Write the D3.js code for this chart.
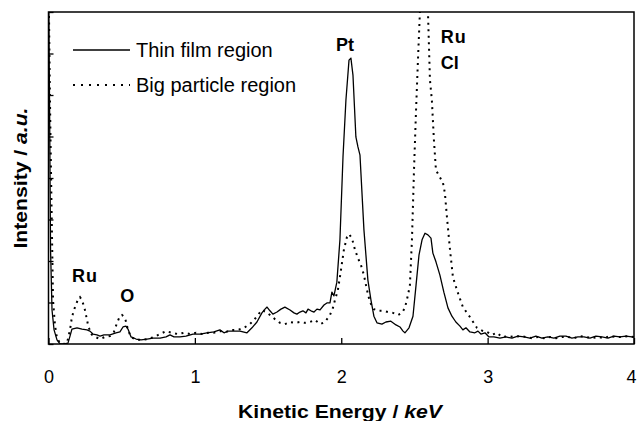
<!DOCTYPE html>
<html><head><meta charset="utf-8">
<script src="https://cdn.jsdelivr.net/npm/d3@7"></script>
<style>
html,body{margin:0;padding:0;background:#fff;}
svg{display:block;font-family:Arial,"Liberation Sans",sans-serif;}
</style></head>
<body><svg id="chart" width="638" height="421"></svg>
<script>
// ---- data ----
const xTicks = [0, 1, 2, 3, 4];
const yTicks = [0, 1, 2, 3, 4, 5, 6, 7, 8];
const seriesNames = ["Thin film region", "Big particle region"];

const energyThin = [0,0.007,0.014,0.024,0.038,0.058,0.079,0.106,0.133,0.147,0.16,0.195,0.229,0.263,0.283,0.304,0.331,0.352,0.379,0.42,0.461,0.488,0.509,0.529,0.543,0.564,0.598,0.632,0.673,0.714,0.762,0.803,0.83,0.857,0.898,0.939,0.987,1.035,1.083,1.13,1.171,1.199,1.226,1.267,1.308,1.356,1.39,1.424,1.458,1.479,1.493,1.513,1.533,1.561,1.588,1.615,1.65,1.677,1.697,1.718,1.738,1.759,1.773,1.793,1.814,1.834,1.855,1.882,1.902,1.923,1.936,1.95,1.97,1.991,2.012,2.032,2.053,2.066,2.08,2.1,2.114,2.128,2.155,2.182,2.203,2.223,2.244,2.278,2.305,2.339,2.374,2.401,2.422,2.435,2.463,2.49,2.511,2.531,2.552,2.572,2.592,2.613,2.626,2.647,2.674,2.701,2.729,2.756,2.783,2.811,2.831,2.852,2.879,2.913,2.934,2.954,2.982,3.009,3.043,3.084,3.125,3.166,3.207,3.248,3.289,3.33,3.371,3.412,3.453,3.494,3.535,3.576,3.617,3.658,3.699,3.74,3.781,3.822,3.863,3.904,3.945,3.986,4.0];
const thinFilm = [9.0,5.88,2.27,0.82,0.34,0.10,0,0,0.02,0.19,0.36,0.39,0.36,0.34,0.31,0.24,0.22,0.19,0.22,0.22,0.27,0.29,0.41,0.43,0.36,0.17,0.12,0.10,0.12,0.14,0.14,0.17,0.22,0.17,0.17,0.19,0.24,0.24,0.27,0.29,0.34,0.27,0.31,0.31,0.31,0.27,0.39,0.53,0.75,0.84,0.89,0.80,0.72,0.77,0.84,0.89,0.82,0.75,0.72,0.77,0.80,0.75,0.84,0.80,0.77,0.84,0.82,0.94,0.99,0.99,1.25,1.16,1.49,2.51,4.51,5.88,6.84,6.89,6.48,4.99,4.75,4.55,2.75,1.54,1.06,0.67,0.51,0.48,0.53,0.55,0.46,0.41,0.31,0.27,0.39,0.67,1.42,2.14,2.51,2.67,2.63,2.55,2.19,1.98,1.66,1.25,0.87,0.67,0.53,0.43,0.34,0.39,0.29,0.27,0.31,0.24,0.27,0.17,0.17,0.14,0.17,0.14,0.19,0.17,0.14,0.19,0.14,0.17,0.14,0.19,0.19,0.14,0.17,0.17,0.14,0.19,0.17,0.14,0.19,0.17,0.19,0.17,0.17];

const energyBig = [0,0.01,0.02,0.031,0.044,0.058,0.079,0.106,0.126,0.147,0.16,0.181,0.202,0.215,0.229,0.249,0.27,0.29,0.318,0.352,0.386,0.42,0.447,0.468,0.488,0.502,0.523,0.543,0.564,0.598,0.639,0.68,0.72,0.762,0.803,0.844,0.884,0.925,0.967,1.008,1.049,1.09,1.13,1.171,1.212,1.253,1.294,1.335,1.376,1.404,1.431,1.458,1.486,1.513,1.547,1.581,1.615,1.65,1.684,1.718,1.752,1.786,1.82,1.855,1.889,1.923,1.943,1.957,1.977,1.998,2.018,2.039,2.053,2.073,2.094,2.114,2.135,2.155,2.176,2.196,2.223,2.251,2.285,2.319,2.353,2.388,2.415,2.435,2.456,2.469,2.483,2.497,2.511,2.524,2.538,2.565,2.592,2.606,2.619,2.633,2.647,2.674,2.695,2.708,2.722,2.743,2.763,2.797,2.831,2.879,2.927,2.968,2.995,3.03,3.064,3.098,3.139,3.18,3.22,3.262,3.303,3.344,3.385,3.426,3.467,3.508,3.549,3.59,3.63,3.672,3.712,3.753,3.794,3.835,3.876,3.917,3.958,4.0];
const bigParticle = [9.0,5.88,3.47,1.06,0.46,0.14,0.02,0,0.02,0.34,0.65,0.89,1.08,1.13,1.06,0.82,0.46,0.24,0.17,0.12,0.17,0.19,0.29,0.51,0.67,0.70,0.63,0.34,0.17,0.10,0.10,0.12,0.17,0.24,0.31,0.27,0.24,0.27,0.24,0.27,0.24,0.27,0.27,0.31,0.29,0.34,0.34,0.39,0.48,0.58,0.70,0.82,0.77,0.70,0.60,0.51,0.48,0.53,0.51,0.53,0.51,0.53,0.58,0.48,0.53,0.70,0.87,1.06,1.30,1.78,2.27,2.58,2.65,2.55,2.27,2.07,1.90,1.66,1.30,1.01,0.84,0.80,0.80,0.77,0.75,0.70,0.75,0.87,1.18,1.42,2.51,4.19,5.64,6.84,8.05,9.5,8.05,6.36,5.88,4.92,4.19,4.02,3.88,3.64,3.06,2.27,1.61,1.23,0.89,0.65,0.39,0.31,0.29,0.22,0.27,0.17,0.19,0.17,0.19,0.17,0.14,0.17,0.14,0.17,0.14,0.17,0.17,0.14,0.19,0.17,0.14,0.17,0.14,0.19,0.17,0.17,0.19,0.17];

const peakLabels = [
  {text: "Pt", e: 1.964, v: 7.05},
  {text: "Ru", e: 2.68, v: 7.25},
  {text: "Cl", e: 2.68, v: 6.62},
  {text: "Ru", e: 0.16, v: 1.49},
  {text: "O",  e: 0.49, v: 1.01}
];

// ---- layout ----
const svg = d3.select("#chart");
const L = 48.5, R = 634, T = 12, B = 344;
const x = d3.scaleLinear().domain([0, 4]).range([L, R]);
const y = d3.scaleLinear().domain([0, 8]).range([B, T]);

svg.append("defs").append("clipPath").attr("id","clip")
  .append("rect").attr("x", L).attr("y", T).attr("width", R - L).attr("height", B - T);

const line = d3.line().x(d => x(d[0])).y(d => y(d[1]));

const g = svg.append("g").attr("clip-path","url(#clip)");
g.append("path")
  .datum(energyBig.map((e,i)=>[e,bigParticle[i]]))
  .attr("d", line).attr("fill","none").attr("stroke","#000")
  .attr("stroke-width",2).attr("stroke-dasharray","2,4.5");
g.append("path")
  .datum(energyThin.map((e,i)=>[e,thinFilm[i]]))
  .attr("d", line).attr("fill","none").attr("stroke","#000")
  .attr("stroke-width",1.3).attr("stroke-linejoin","round");

// frame
svg.append("rect").attr("x",L).attr("y",T).attr("width",R-L).attr("height",B-T)
  .attr("fill","none").attr("stroke","#000").attr("stroke-width",1.5);

// x axis (ticks inside)
const xAxis = d3.axisBottom(x).tickValues(xTicks).tickSize(-6).tickPadding(26).tickFormat(d3.format("d"));
const xg = svg.append("g").attr("transform",`translate(0,${B})`).call(xAxis);
xg.select(".domain").remove();
xg.selectAll(".tick line").attr("stroke","#000").attr("stroke-width",1.3);
xg.selectAll(".tick text").attr("font-size",18).attr("fill","#000")
  .attr("font-family","Arial, 'Liberation Sans', sans-serif")
  .attr("dx", d => d === 4 ? -3 : 0);

// y axis (ticks inside, no labels)
const yAxis = d3.axisLeft(y).tickValues(yTicks).tickSize(-5).tickFormat("");
const yg = svg.append("g").attr("transform",`translate(${L},0)`).call(yAxis);
yg.select(".domain").remove();
yg.selectAll(".tick line").attr("stroke","#000").attr("stroke-width",1.3);

// axis titles
const xt = svg.append("text").attr("x", 340).attr("y", 418).attr("text-anchor","middle")
  .attr("font-size",18.5).attr("font-weight","bold").attr("textLength",204).attr("lengthAdjust","spacingAndGlyphs");
xt.append("tspan").text("Kinetic Energy / ");
xt.append("tspan").attr("font-style","italic").text("keV");

const yt = svg.append("text").attr("transform","translate(27,178) rotate(-90)").attr("text-anchor","middle")
  .attr("font-size",19).attr("font-weight","bold").attr("textLength",141).attr("lengthAdjust","spacingAndGlyphs");
yt.append("tspan").text("Intensity / ");
yt.append("tspan").attr("font-style","italic").text("a.u.");

// peak labels
svg.selectAll("text.peak").data(peakLabels).enter().append("text").attr("class","peak")
  .attr("x", d => x(d.e)).attr("y", d => y(d.v))
  .attr("font-size",18).attr("font-weight","bold").attr("letter-spacing", d => d.text === "Ru" ? 1 : 0)
  .text(d => d.text);

// legend
const leg = svg.append("g");
const legY = [50, 85];
leg.append("line").attr("x1",73).attr("x2",130).attr("y1",legY[0]).attr("y2",legY[0])
  .attr("stroke","#000").attr("stroke-width",1.3);
leg.append("line").attr("x1",73).attr("x2",130).attr("y1",legY[1]).attr("y2",legY[1])
  .attr("stroke","#000").attr("stroke-width",2).attr("stroke-dasharray","2,6");
leg.selectAll("text").data(seriesNames).enter().append("text")
  .attr("x",136).attr("y",(d,i)=>legY[i]+7).attr("font-size",20).text(d=>d);
</script></body></html>
